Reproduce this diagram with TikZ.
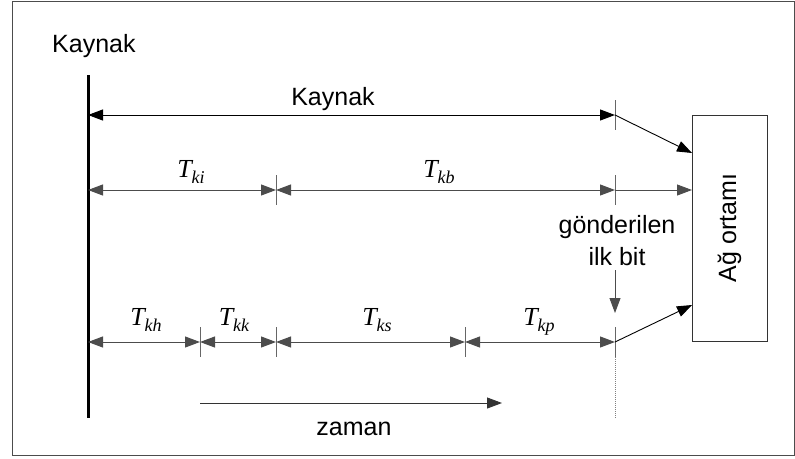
\documentclass[tikz,border=0pt]{standalone}
\usepackage{fontspec}
\setmainfont{Liberation Sans}
\newfontfamily\timesfont{Liberation Serif}
\usetikzlibrary{arrows.meta,calc}
\newcommand\Tsub[1]{{\timesfont\itshape\fontsize{26}{26}\selectfont T\raisebox{-6pt}{\fontsize{18}{18}\selectfont #1}}}
\begin{document}
\begin{tikzpicture}[x=1pt,y=-1pt,
  lbl/.style={font=\fontsize{25}{25}\selectfont, inner sep=0pt},
  tl/.style={inner sep=0pt, anchor=base},
  dimline/.style={draw=black!70, line width=1pt, {Triangle[length=15pt,width=11pt]}-{Triangle[length=15pt,width=11pt]}},
  arr/.style={draw=black, line width=0.9pt, -{Triangle[length=15pt,width=11pt]}},
  tick/.style={draw=black!60, line width=1pt},
  ]
\useasboundingbox (0,0) rectangle (795,458);
\draw[black!70, line width=1pt] (12,1) rectangle (794,455);
% source line
\coordinate (top) at (88,75);
\coordinate (bot) at (88,418);
\draw[line width=3pt] (top) -- (bot);
\node[lbl, anchor=base west] (kay1) at (52,52) {Kaynak};
% box
\node[draw=black!80, line width=1pt, rotate=90, minimum width=226pt, minimum height=75pt, font=\fontsize{25}{25}\selectfont] (box) at (729.5,228) {Ağ ortamı};
% row 1
\coordinate (L1) at (88,115);
\coordinate (R1) at (615,115);
\coordinate (B1) at (692,153);
\draw[dimline, draw=black] (L1) -- (R1);
\draw[tick] ($(R1)+(0,-15)$) -- ($(R1)+(0,15)$);
\draw[arr] (R1) -- (B1);
\node[lbl, anchor=base] (kay2) at (333,105) {Kaynak};
% row 2
\coordinate (L2) at (88,190);
\coordinate (M2) at (276,190);
\coordinate (R2) at (615,190);
\coordinate (B2) at (692,190);
\draw[dimline] (L2) -- (M2);
\draw[dimline] (M2) -- (R2);
\draw[tick] ($(M2)+(0,-15)$) -- ($(M2)+(0,15)$);
\draw[tick] ($(R2)+(0,-15)$) -- ($(R2)+(0,15)$);
\draw[arr, draw=black!70] (R2) -- (B2);
\node[tl] (tki) at (191,177) {\Tsub{ki}};
\node[tl] (tkb) at (439,177) {\Tsub{kb}};
% gönderilen ilk bit
\node[lbl, anchor=base] (g1) at (617,233) {gönderilen};
\node[lbl, anchor=base] (g2) at (617,265) {ilk bit};
\coordinate (D1) at (615,270);
\coordinate (D2) at (615,313);
\draw[arr, draw=black!70] (D1) -- (D2);
% row 3
\coordinate (L3) at (88,342);
\coordinate (A3) at (200,342);
\coordinate (B3) at (276,342);
\coordinate (C3) at (465,342);
\coordinate (R3) at (615,342);
\coordinate (E3) at (692,305);
\draw[dimline] (L3) -- (A3);
\draw[dimline] (A3) -- (B3);
\draw[dimline] (B3) -- (C3);
\draw[dimline] (C3) -- (R3);
\foreach \p in {A3,B3,C3,R3} \draw[tick] ($(\p)+(0,-15)$) -- ($(\p)+(0,15)$);
\draw[arr] (R3) -- (E3);
\coordinate (dotend) at (615,418);
\draw[black!50, line width=1pt, densely dotted] ($(R3)+(0,15)$) -- (dotend);
\node[tl] (tkh) at (146,325) {\Tsub{kh}};
\node[tl] (tkk) at (234,325) {\Tsub{kk}};
\node[tl] (tks) at (377,325) {\Tsub{ks}};
\node[tl] (tkp) at (539,325) {\Tsub{kp}};
% zaman
\coordinate (Z1) at (200,403);
\coordinate (Z2) at (502,403);
\draw[arr, draw=black!80] (Z1) -- (Z2);
\node[lbl, anchor=base] (zaman) at (354,435) {zaman};
\end{tikzpicture}
\end{document}
